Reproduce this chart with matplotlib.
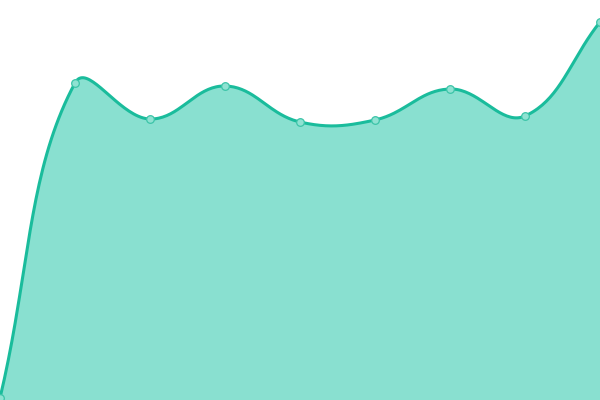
import numpy as np
import matplotlib
matplotlib.use("Agg")
import matplotlib.pyplot as plt

categories = ["A", "B", "C", "D", "E", "F", "G", "H", "I"]
values = [2, 317, 281, 314, 278, 280, 311, 284, 378]

LINE = "#1abc9c"
FILL = "#89e0d0"

def spline_pixels(P, tension=0.4, n=40):
    m = len(P)
    cps = []
    for i in range(m):
        prev = P[max(i - 1, 0)]; cur = P[i]; nxt = P[min(i + 1, m - 1)]
        d01 = np.hypot(*(cur - prev)); d12 = np.hypot(*(nxt - cur))
        s01 = d01 / (d01 + d12) if d01 + d12 else 0
        s12 = d12 / (d01 + d12) if d01 + d12 else 0
        fa = tension * s01; fb = tension * s12
        cps.append((cur - fa * (nxt - prev), cur + fb * (nxt - prev)))
    t = np.linspace(0, 1, n)[:, None]
    out = []
    for i in range(m - 1):
        p1 = P[i]; c1 = cps[i][1]; c2 = cps[i + 1][0]; p2 = P[i + 1]
        b = (1 - t) ** 3 * p1 + 3 * (1 - t) ** 2 * t * c1 + 3 * (1 - t) * t ** 2 * c2 + t ** 3 * p2
        out.append(b)
    return np.vstack(out)

x = np.arange(len(categories))

fig = plt.figure(figsize=(6, 4), dpi=100)
ax = fig.add_axes([0, 0, 1, 1])
ax.set_xlim(0, len(categories) - 1)
ax.set_ylim(0, 400)
ax.axis("off")

pix = ax.transData.transform(np.column_stack([x, values]))
curve = ax.transData.inverted().transform(spline_pixels(pix))
sx, sy = curve[:, 0], curve[:, 1]

ax.fill_between(sx, 0, sy, color=FILL, lw=0)
ax.plot(sx, sy, color=LINE, lw=2.2, solid_capstyle="round")
ax.plot(x, values, "o", ms=5.5, mfc="#8fe2d2", mec="#3cc4a8", mew=0.9)
fig.savefig("out.png", dpi=100)
